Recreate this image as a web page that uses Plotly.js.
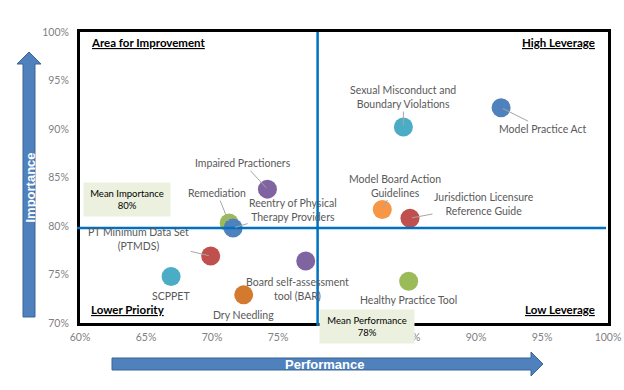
<!DOCTYPE html>
<html>
<head>
<meta charset="utf-8">
<script src="https://cdn.plot.ly/plotly-3.0.1.min.js"></script>
<style>html,body{margin:0;padding:0;background:#fff;}#chart{width:624px;height:390px;}</style>
</head>
<body>
<div id="chart"></div>
<script>
// ---- data ----
const names = [
  "Model Practice Act",
  "Sexual Misconduct and<br>Boundary Violations",
  "Model Board Action<br>Guidelines",
  "Jurisdiction Licensure<br>Reference Guide",
  "Healthy Practice Tool",
  "Impaired Practioners",
  "Remediation",
  "Reentry of Physical<br>Therapy Providers",
  "PT Minimum Data Set<br>(PTMDS)",
  "SCPPET",
  "Board self-assessment<br>tool (BAR)",
  "Dry Needling"
];
const performance = [91.9, 84.5, 82.9, 85.0, 84.9, 74.2, 71.3, 71.6, 69.9, 66.9, 77.1, 72.4];
const importance  = [92.2, 90.2, 81.7, 80.8, 74.3, 83.8, 80.3, 79.8, 76.9, 74.8, 76.4, 72.9];
const meanPerformance = 78.0;
const meanImportance = 79.8;
const meanPerformanceLabel = "Mean Performance<br>78%";
const meanImportanceLabel = "Mean Importance<br>80%";
const quadrantLabels = ["Area for Improvement", "High Leverage", "Lower Priority", "Low Leverage"];
const axisTitles = ["Performance", "Importance"];
const xTickVals = [60, 65, 70, 75, 80, 85, 90, 95, 100];
const yTickVals = [70, 75, 80, 85, 90, 95, 100];

// ---- styles ----
const colors = ["#4F81BD","#4BACC6","#F79646","#C0504D","#9BBB59","#8064A2","#9BBB59","#4F81BD","#C0504D","#4BACC6","#8064A2","#D47A2E"];
// label offsets in pixels: [dx, dy, leader?]
const labelOffsets = [
  [42, 21, true], [0, -30, true], [13, -24, true], [74, -14, true], [0, 19, false],
  [-24, -26, true], [-12, -30, true], [60, -18, true], [-72, -17, true],
  [0, 20, false], [-8, 28, false], [0, 20, false]
];

const W = 624, H = 390, L = 80, R = 16, T = 32, B = 67;
const pw = W - L - R, ph = H - T - B;
const px = x => (x - L) / pw;
const py = y => (H - B - y) / ph;
const font = "Lato, 'Open Sans', sans-serif";

const trace = {
  type: "scatter", mode: "markers",
  x: performance, y: importance,
  marker: {size: 19, color: colors, line: {width: 0}},
  hoverinfo: "skip", cliponaxis: false
};

const annotations = names.map((n, i) => {
  const o = labelOffsets[i];
  if (o[2]) {
    return {x: performance[i], y: importance[i], xref: "x", yref: "y", text: n,
      showarrow: true, arrowhead: 0, arrowwidth: 1, arrowcolor: "#A6A6A6",
      ax: o[0], ay: o[1], standoff: 2, startstandoff: 0,
      font: {family: font, size: 10.5, color: "#595959"}};
  }
  return {x: performance[i], y: importance[i], xref: "x", yref: "y", text: n,
    showarrow: false, xshift: o[0], yshift: -o[1], xanchor: "center", yanchor: "middle",
    font: {family: font, size: 10.5, color: "#595959"}};
});

const qf = {family: font, size: 11.5, color: "#000"};
annotations.push(
  {xref: "paper", yref: "paper", x: px(89), y: py(43), xanchor: "left", yanchor: "middle", showarrow: false, text: "<b><u>" + quadrantLabels[0] + "</u></b>", font: qf},
  {xref: "paper", yref: "paper", x: px(597), y: py(43), xanchor: "right", yanchor: "middle", showarrow: false, text: "<b><u>" + quadrantLabels[1] + "</u></b>", font: qf},
  {xref: "paper", yref: "paper", x: px(89), y: py(309), xanchor: "left", yanchor: "middle", showarrow: false, text: "<b><u>" + quadrantLabels[2] + "</u></b>", font: qf},
  {xref: "paper", yref: "paper", x: px(597), y: py(309), xanchor: "right", yanchor: "middle", showarrow: false, text: "<b><u>" + quadrantLabels[3] + "</u></b>", font: qf},
  {xref: "paper", yref: "paper", x: px(127), y: py(200), xanchor: "center", yanchor: "middle", showarrow: false,
   text: meanImportanceLabel, bgcolor: "#EBF1DE", width: 84, height: 31, font: {family: font, size: 9.5, color: "#000"}},
  {xref: "x", yref: "paper", x: meanPerformance, xshift: 49, y: py(326.5), xanchor: "center", yanchor: "middle", showarrow: false,
   text: meanPerformanceLabel, bgcolor: "#EBF1DE", width: 92, height: 31, font: {family: font, size: 9.5, color: "#000"}},
  {xref: "paper", yref: "paper", x: px(29.5), y: py(188), xanchor: "center", yanchor: "middle", textangle: -90, showarrow: false,
   text: "<b>" + axisTitles[1] + "</b>", font: {family: "Liberation Sans, Arial, sans-serif", size: 13, color: "#fff"}},
  {xref: "paper", yref: "paper", x: px(324), y: py(364), xanchor: "center", yanchor: "middle", showarrow: false,
   text: "<b>" + axisTitles[0] + "</b>", font: {family: "Liberation Sans, Arial, sans-serif", size: 13, color: "#fff"}}
);

function pathPx(pts) {
  return "M" + pts.map(p => px(p[0]).toFixed(5) + "," + py(p[1]).toFixed(5)).join(" L") + " Z";
}
const arrowFill = "#4F81BD", arrowLine = "#3A6596";

const shapes = [
  // mean lines
  {type: "line", xref: "paper", yref: "y", x0: px(77), x1: px(606), y0: meanImportance, y1: meanImportance,
   line: {color: "#0070C0", width: 2.5}, layer: "above"},
  {type: "line", xref: "x", yref: "paper", x0: meanPerformance, x1: meanPerformance, y0: py(32), y1: py(326),
   line: {color: "#0070C0", width: 2.5}, layer: "above"},
  // vertical arrow
  {type: "path", xref: "paper", yref: "paper", path: pathPx([[23,317],[23,64],[17,64],[29,52],[41,64],[35,64],[35,317]]),
   fillcolor: arrowFill, line: {color: arrowLine, width: 1}, layer: "above"},
  // horizontal arrow
  {type: "path", xref: "paper", yref: "paper", path: pathPx([[112,358],[531,358],[531,352],[543,364],[531,376],[531,370],[112,370]]),
   fillcolor: arrowFill, line: {color: arrowLine, width: 1}, layer: "above"}
];

const axisFont = {family: font, size: 10.5, color: "#7F7F7F"};
const layout = {
  width: W, height: H,
  margin: {l: L, r: R, t: T, b: B, pad: 0},
  paper_bgcolor: "#fff", plot_bgcolor: "#fff",
  showlegend: false,
  xaxis: {range: [60, 100], tickmode: "array", tickvals: xTickVals, ticktext: xTickVals.map(v => v + "%"),
          showgrid: false, zeroline: false, showline: true, mirror: true, linecolor: "#000", linewidth: 3,
          ticks: "", tickfont: axisFont, ticklabelstandoff: 2, fixedrange: true},
  yaxis: {range: [70, 100], tickmode: "array", tickvals: yTickVals, ticktext: yTickVals.map(v => v + "%"),
          showgrid: false, zeroline: false, showline: true, mirror: true, linecolor: "#000", linewidth: 3,
          ticks: "", tickfont: axisFont, ticklabelstandoff: 6, fixedrange: true},
  shapes: shapes,
  annotations: annotations
};

Plotly.newPlot("chart", [trace], layout, {staticPlot: true, displayModeBar: false});
</script>
</body>
</html>
